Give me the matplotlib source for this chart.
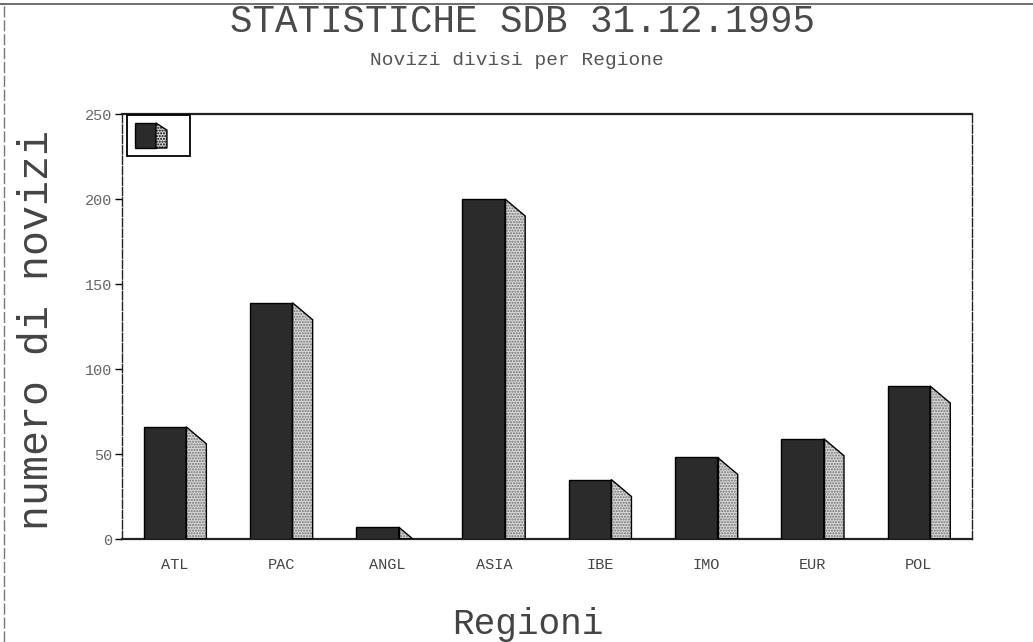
import numpy as np
import matplotlib
matplotlib.use("Agg")
import matplotlib.pyplot as plt
from matplotlib.patches import Polygon, Rectangle
from matplotlib.lines import Line2D

# Data
regioni = ["ATL", "PAC", "ANGL", "ASIA", "IBE", "IMO", "EUR", "POL"]
novizi = [66, 139, 7, 200, 35, 48, 59, 90]
y_ticks = [0, 50, 100, 150, 200, 250]

mono = "Liberation Mono"
front_col = "#2b2b2b"
side_col = "#d9d9d9"

front_w = 0.40   # width of front face (category units)
side_w = 0.19    # width of the shaded side face
drop = 10        # how far the side face slopes down (data units)

fig = plt.figure(figsize=(10.33, 6.42), dpi=100)
ax = fig.add_axes([0.118, 0.1604, 0.823, 0.662])

x = np.arange(len(regioni))
left = x - (front_w + side_w) / 2
ax.bar(left, novizi, width=front_w, align="edge", color=front_col,
       edgecolor="black", linewidth=1.0, zorder=3)

# pseudo 3D side faces
for xl, v in zip(left, novizi):
    xr = xl + front_w
    if v > drop:
        pts = [(xr, 0), (xr, v), (xr + side_w, v - drop), (xr + side_w, 0)]
    else:
        pts = [(xr, 0), (xr, v), (xr + side_w * v / drop, 0)]
    ax.add_patch(Polygon(pts, closed=True, facecolor=side_col, hatch="......",
                         edgecolor="#707070", linewidth=0, zorder=2))
    ax.add_patch(Polygon(pts, closed=True, facecolor="none",
                         edgecolor="black", linewidth=1.0, zorder=4))

ax.set_xlim(-0.5, len(regioni) - 0.5)
ax.set_ylim(0, 250)
ax.set_xticks(x)
ax.set_xticklabels(regioni, fontfamily=mono, fontsize=11, color="#444444")
ax.set_yticks(y_ticks)
ax.set_yticklabels([str(t) for t in y_ticks], fontfamily=mono, fontsize=11,
                   color="#666666")
ax.tick_params(axis="x", length=0, pad=14)
ax.tick_params(axis="y", length=5, width=1, direction="out", pad=2)
ax.spines["top"].set_linewidth(1.6)
ax.spines["bottom"].set_linewidth(1.6)
ax.spines["left"].set_linewidth(1.0)
ax.spines["left"].set_linestyle((0, (6, 1.5)))
ax.spines["right"].set_linewidth(1.0)
ax.spines["right"].set_linestyle((0, (6, 1.5)))
for s in ax.spines.values():
    s.set_color("#222222")

# legend box with only the bar icon
ax.add_patch(Rectangle((0.006, 0.901), 0.074, 0.096, transform=ax.transAxes,
                       facecolor="white", edgecolor="black", lw=1.3, zorder=5))
ax.add_patch(Rectangle((0.015, 0.920), 0.025, 0.059, transform=ax.transAxes,
                       facecolor=front_col, edgecolor="black", lw=1.0, zorder=6))
ax.add_patch(Polygon([(0.040, 0.920), (0.040, 0.979), (0.053, 0.962), (0.053, 0.920)],
                     closed=True, transform=ax.transAxes, facecolor=side_col,
                     hatch="......", edgecolor="black", lw=1.0, zorder=6))

# titles and axis labels
fig.text(0.506, 0.966, "STATISTICHE SDB 31.12.1995", ha="center", va="center",
         fontfamily=mono, fontsize=27, color="#4a4a4a")
fig.text(0.50, 0.905, "Novizi divisi per Regione", ha="center", va="center",
         fontfamily=mono, fontsize=14, color="#555555")
fig.text(0.511, 0.028, "Regioni", ha="center", va="center",
         fontfamily=mono, fontsize=26, color="#444444")
fig.text(0.036, 0.486, "numero di novizi", ha="center", va="center",
         rotation=90, fontfamily=mono, fontsize=30, color="#444444")

# page border (top and left edges of the printout)
fig.add_artist(Line2D([0.0, 1.0], [0.993, 0.993], transform=fig.transFigure,
                      color="#555555", lw=1.2))
fig.add_artist(Line2D([0.004, 0.004], [0.0, 0.993], transform=fig.transFigure,
                      color="#777777", lw=1.0, ls=(0, (8, 2))))

fig.savefig("out.png", dpi=100)
